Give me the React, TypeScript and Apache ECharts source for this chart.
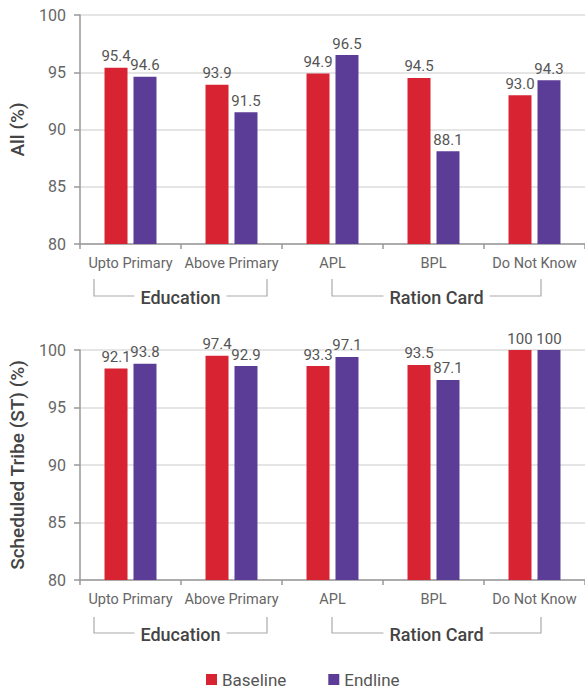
import React, { useEffect, useRef } from "react";
import * as echarts from "echarts";

const categories = ["Upto Primary", "Above Primary", "APL", "BPL", "Do Not Know"];
const seriesNames = ["Baseline", "Endline"];

// Top panel: All (%)
const allBaseline = [95.4, 93.9, 94.9, 94.5, 93.0];
const allEndline = [94.6, 91.5, 96.5, 88.1, 94.3];
const allBaselineLabels = ["95.4", "93.9", "94.9", "94.5", "93.0"];
const allEndlineLabels = ["94.6", "91.5", "96.5", "88.1", "94.3"];

// Bottom panel: Scheduled Tribe (ST) (%) — bar heights as drawn, labels as printed
const stBaseline = [98.4, 99.5, 98.6, 98.7, 100];
const stEndline = [98.8, 98.6, 99.4, 97.4, 100];
const stBaselineLabels = ["92.1", "97.4", "93.3", "93.5", "100"];
const stEndlineLabels = ["93.8", "92.9", "97.1", "87.1", "100"];

const yTicks = [80, 85, 90, 95, 100];
const groupNames = ["Education", "Ration Card"];

const RED = "#D82332";
const PURPLE = "#5B3C96";
const FONT = "Roboto, 'DejaVu Sans', sans-serif";

export default function App() {
  const ref = useRef<HTMLDivElement>(null);
  useEffect(() => {
    if (!ref.current) return;
    const chart = echarts.init(ref.current, null, { renderer: "svg" });

    const xAxisBase = (gridIndex: number) => ({
      type: "category",
      gridIndex,
      data: categories,
      axisLine: { lineStyle: { color: "#999", width: 1.5 } },
      axisTick: { show: true, length: 5, lineStyle: { color: "#999", width: 1.5 } },
      axisLabel: { color: "#666", fontSize: 14.5, margin: 12, fontFamily: FONT, interval: 0 },
    });
    const yAxisBase = (gridIndex: number, name: string) => ({
      type: "value",
      gridIndex,
      min: yTicks[0],
      max: yTicks[yTicks.length - 1],
      interval: 5,
      name,
      nameLocation: "middle",
      nameGap: 53,
      nameTextStyle: { color: "#444", fontSize: 19, fontWeight: 500, fontFamily: FONT },
      axisLine: { show: true, lineStyle: { color: "#999", width: 1.5 } },
      axisTick: { show: true, length: 6, lineStyle: { color: "#999", width: 1.5 } },
      axisLabel: { color: "#666", fontSize: 16, margin: 14, fontFamily: FONT },
      splitLine: { lineStyle: { color: "#ddd", width: 1.5 } },
    });
    const barSeries = (
      name: string,
      data: number[],
      labels: string[],
      color: string,
      axisIndex: number
    ) => ({
      type: "bar",
      name,
      xAxisIndex: axisIndex,
      yAxisIndex: axisIndex,
      data,
      barWidth: 23,
      barGap: "26%",
      itemStyle: { color },
      label: {
        show: true,
        position: "top",
        distance: 4,
        color: "#555",
        fontSize: 15,
        fontFamily: FONT,
        formatter: (p: any) => labels[p.dataIndex],
      },
    });

    const bracket = (x1: number, x2: number, yTop: number, yBot: number, text: string) => [
      {
        type: "polyline",
        shape: { points: [[x1, yTop], [x1, yBot], [x2, yBot], [x2, yTop]] },
        style: { stroke: "#aaa", lineWidth: 1.2, fill: null },
        z: 10,
      },
      {
        type: "text",
        x: (x1 + x2) / 2,
        y: yBot + 1,
        style: {
          text,
          fill: "#444",
          fontSize: 18,
          fontWeight: 500,
          fontFamily: FONT,
          align: "center",
          verticalAlign: "middle",
          backgroundColor: "#fff",
          padding: [0, 6],
        },
        z: 11,
      },
    ];

    chart.setOption({
      animation: false,
      grid: [
        { left: 78, top: 15, width: 508, height: 229 },
        { left: 78, top: 350, width: 508, height: 230 },
      ],
      xAxis: [xAxisBase(0), xAxisBase(1)],
      yAxis: [yAxisBase(0, "All (%)"), yAxisBase(1, "Scheduled Tribe (ST) (%)")],
      legend: {
        data: seriesNames,
        left: 201,
        top: 666,
        icon: "rect",
        itemWidth: 11,
        itemHeight: 11,
        itemGap: 42,
        textStyle: { color: "#555", fontSize: 17, fontFamily: FONT },
      },
      series: [
        barSeries(seriesNames[0], allBaseline, allBaselineLabels, RED, 0),
        barSeries(seriesNames[1], allEndline, allEndlineLabels, PURPLE, 0),
        barSeries(seriesNames[0], stBaseline, stBaselineLabels, RED, 1),
        barSeries(seriesNames[1], stEndline, stEndlineLabels, PURPLE, 1),
      ],
      graphic: [
        ...bracket(94, 267, 279, 296, groupNames[0]),
        ...bracket(332, 541, 279, 296, groupNames[1]),
        ...bracket(94, 267, 617, 633, groupNames[0]),
        ...bracket(332, 541, 617, 633, groupNames[1]),
      ],
    });
    return () => chart.dispose();
  }, []);
  return (
    <div
      ref={ref}
      style={{ position: "absolute", left: 0, top: 0, width: 585, height: 691, background: "#fff" }}
    />
  );
}
